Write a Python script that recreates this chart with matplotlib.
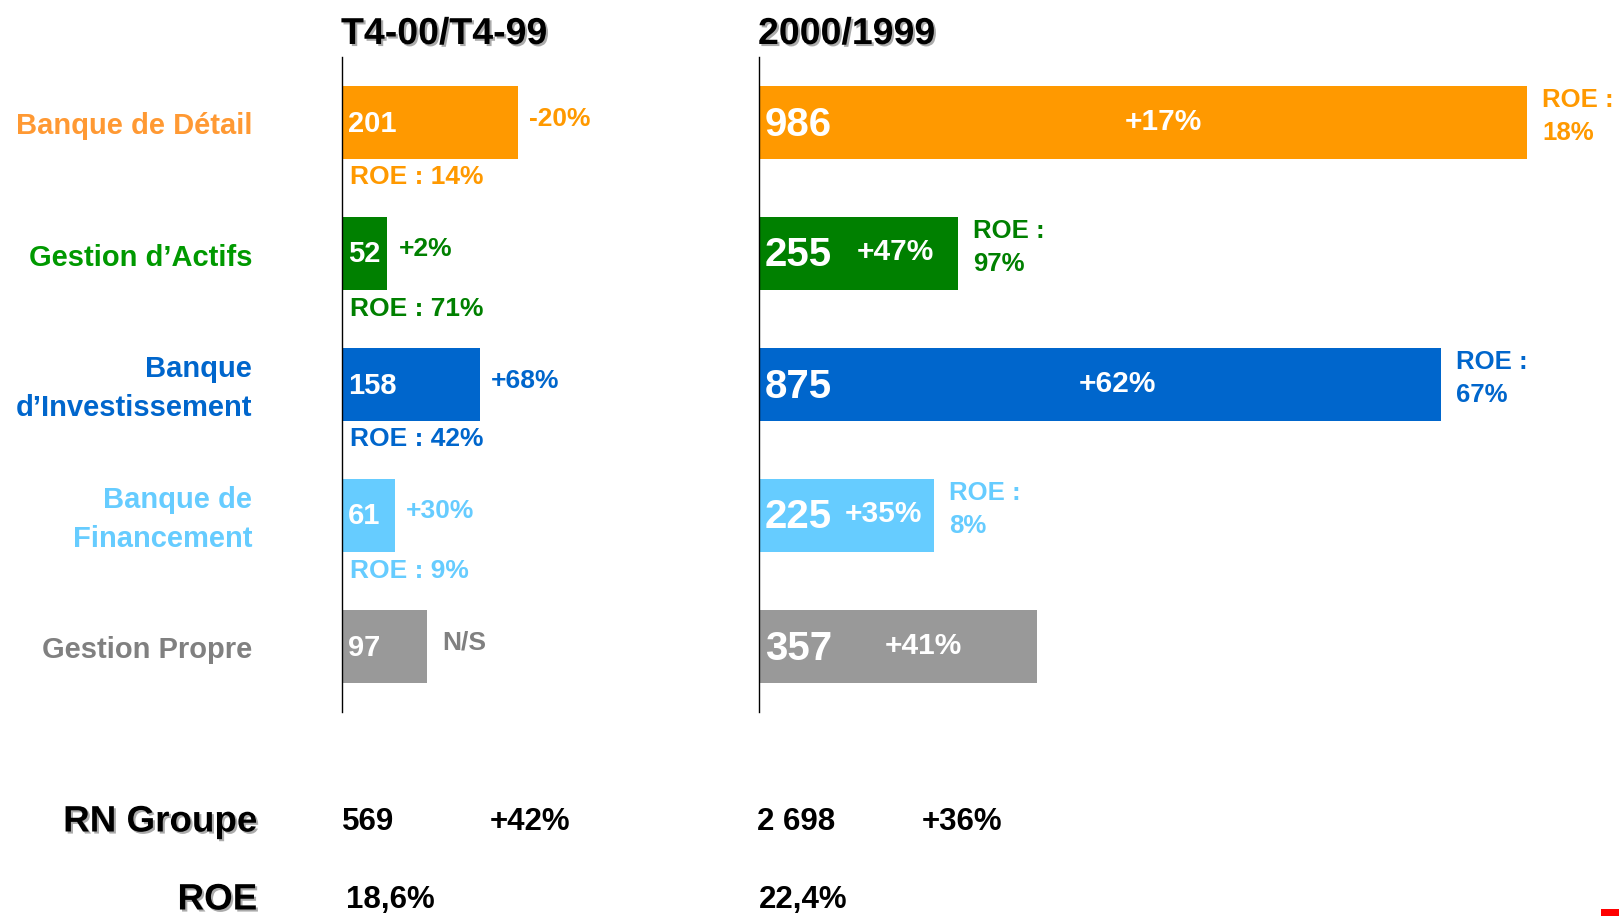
"""Résultat net par pôle : T4-00/T4-99 et 2000/1999."""

from __future__ import annotations

import matplotlib

matplotlib.use("Agg")
import matplotlib.patheffects as pe
import matplotlib.pyplot as plt
from matplotlib.patches import Rectangle

W, H = 1619, 916

categories = [
    "Banque de Détail",
    "Gestion d’Actifs",
    "Banque\nd’Investissement",
    "Banque de\nFinancement",
    "Gestion Propre",
]
q4_values = [201, 52, 158, 61, 97]
q4_change = ["-20%", "+2%", "+68%", "+30%", "N/S"]
q4_roe = ["14%", "71%", "42%", "9%", None]
year_values = [986, 255, 875, 225, 357]
year_change = ["+17%", "+47%", "+62%", "+35%", "+41%"]
year_roe = ["18%", "97%", "67%", "8%", None]

group_labels = ["RN Groupe", "ROE"]
group_q4 = ["569", "18,6%"]
group_q4_change = ["+42%", ""]
group_year = ["2 698", "22,4%"]
group_year_change = ["+36%", ""]

bar_colors = ["#FF9900", "#008000", "#0066CC", "#66CCFF", "#999999"]
text_colors = ["#FF9933", "#009900", "#0066CC", "#66CCFF", "#808080"]
roe_colors = ["#FF9900", "#008000", "#0066CC", "#66CCFF", "#808080"]
# where the change label sits inside the yearly bars (data units)
year_change_x = [470, 125, 411, 110, 162]

FONT = ["Liberation Sans", "DejaVu Sans"]
SHADOW = [pe.SimplePatchShadow(offset=(1.5, -1.5), shadow_rgbFace="#888888", alpha=0.7), pe.Normal()]


def setup_axis(ax, xmax):
    ax.set_xlim(0, xmax)
    ax.set_ylim(4.5, -0.5)
    for side in ("top", "right", "bottom"):
        ax.spines[side].set_visible(False)
    ax.spines["left"].set_color("black")
    ax.spines["left"].set_linewidth(1.0)
    ax.set_xticks([])
    ax.set_yticks([])
    ax.patch.set_alpha(0)


def main() -> int:
    plt.rcParams["font.family"] = FONT
    plt.rcParams["font.weight"] = "bold"

    fig = plt.figure(figsize=(W / 100, H / 100), dpi=100)
    top, bottom = 57, 712
    ax1 = fig.add_axes([342 / W, (H - bottom) / H, (759 - 342) / W, (bottom - top) / H])
    ax2 = fig.add_axes([759 / W, (H - bottom) / H, (W - 759) / W, (bottom - top) / H])
    setup_axis(ax1, 417 / 0.8735)
    setup_axis(ax2, 860 / 0.7791)

    rows = range(len(categories))
    ax1.barh(rows, q4_values, height=0.56, color=bar_colors, left=0)
    ax2.barh(rows, year_values, height=0.56, color=bar_colors, left=0)

    for i in rows:
        # category label
        ax1.annotate(categories[i], xy=(252 / W, i), xycoords=("figure fraction", "data"),
                     xytext=(0, -4), textcoords="offset pixels",
                     ha="right", va="center", fontsize=21, color=text_colors[i],
                     linespacing=1.5, annotation_clip=False)

        # T4 panel
        ax1.annotate(str(q4_values[i]), xy=(0, i), xytext=(6, -1), textcoords="offset pixels",
                     ha="left", va="center", fontsize=21, color="white")
        gap = 16 if q4_change[i] == "N/S" else 11
        ax1.annotate(q4_change[i], xy=(q4_values[i], i), xytext=(gap, 4), textcoords="offset pixels",
                     ha="left", va="center", fontsize=19, color=roe_colors[i])
        if q4_roe[i]:
            ax1.annotate(f"ROE : {q4_roe[i]}", xy=(0, i), xytext=(8, -55), textcoords="offset pixels",
                         ha="left", va="center", fontsize=19, color=roe_colors[i])

        # yearly panel
        ax2.annotate(str(year_values[i]), xy=(0, i), xytext=(6, -2), textcoords="offset pixels",
                     ha="left", va="center", fontsize=29, color="white")
        ax2.annotate(year_change[i], xy=(year_change_x[i], i), xytext=(0, 1), textcoords="offset pixels",
                     ha="left", va="center", fontsize=21.5, color="white")
        if year_roe[i]:
            ax2.annotate(f"ROE :\n{year_roe[i]}", xy=(year_values[i], i), xytext=(15, 6),
                         textcoords="offset pixels", ha="left", va="center", fontsize=18.5,
                         color=roe_colors[i], linespacing=1.5, annotation_clip=False)

    # panel titles
    for x, title in ((341, "T4-00/T4-99"), (758, "2000/1999")):
        fig.text(x / W, 1 - 34 / H, title, ha="left", va="center", fontsize=27,
                 color="black", path_effects=SHADOW)

    # group totals
    for j, label in enumerate(group_labels):
        y = 1 - (822 if j == 0 else 900) / H
        fig.text(257 / W, y, label, ha="right", va="center", fontsize=26.5,
                 color="black", path_effects=SHADOW)
        fig.text((342 if j == 0 else 346) / W, y, group_q4[j], ha="left", va="center", fontsize=22.5)
        fig.text(490 / W, y, group_q4_change[j], ha="left", va="center", fontsize=22.5)
        fig.text((757 if j == 0 else 759) / W, y, group_year[j], ha="left", va="center", fontsize=22.5)
        fig.text(922 / W, y, group_year_change[j], ha="left", va="center", fontsize=22.5)

    # small red corner mark
    fig.add_artist(Rectangle((1601 / W, 0), 18 / W, 7 / H, transform=fig.transFigure,
                             facecolor="#FF0000", edgecolor="none"))

    fig.savefig("out.png", dpi=100, facecolor="white")
    plt.close(fig)
    return 0


if __name__ == "__main__":
    raise SystemExit(main())
